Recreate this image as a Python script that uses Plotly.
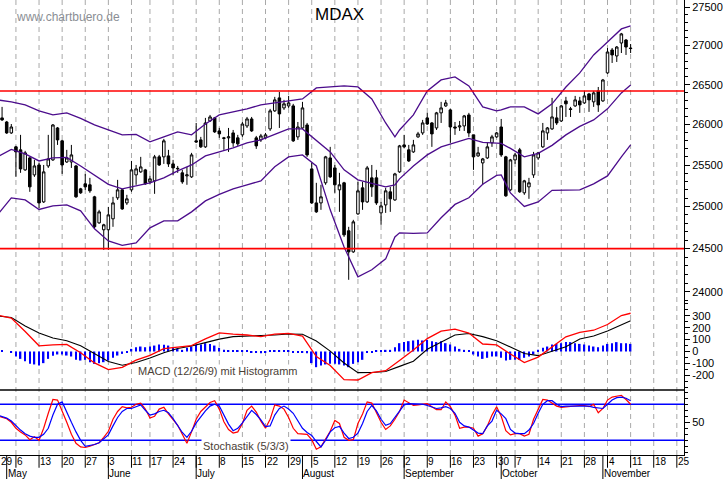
import pandas as pd
import plotly.graph_objects as go

# ---------------- trading calendar (x axis = session number) ----------------
HOLIDAYS = {"2019-05-01", "2019-06-10", "2019-10-03"}
sessions = [d for d in pd.bdate_range("2019-04-29", "2019-11-29")
            if d.strftime("%Y-%m-%d") not in HOLIDAYS]
MONTH_NAMES = {5: "May", 6: "June", 7: "July", 8: "August", 9: "September",
               10: "October", 11: "November"}

# ---------------- MDAX daily OHLC, 2019-04-30 .. 2019-11-11 ----------------
first_candle = 1
opens = [26082, 26031, 25895, 25723, 25686, 25441, 25587, 25380, 25501, 25054,
         25489, 25563, 25957, 25797, 25538, 25538, 25489, 25211, 25272, 25260,
         25115, 24804, 24722, 24722, 24852, 25103, 25199, 25042, 25199, 25380,
         25417, 25441, 25296, 25308, 25600, 25600, 25612, 25514, 25453, 25405,
         25368, 25356, 25797, 25809, 25723, 26044, 26082, 25920, 25834, 25834,
         25895, 25834, 25871, 25982, 26069, 25834, 25809, 25834, 25945, 26170,
         26333, 26207, 26232, 26232, 25846, 25957, 25994, 25453, 25042, 25042,
         25284, 25587, 25465, 25199, 25284, 24710, 24462, 24911, 25223, 25054,
         25344, 25344, 24923, 25018, 25175, 25078, 25417, 25747, 25686, 25661,
         25846, 25895, 26082, 26019, 25957, 26145, 26232, 26182, 25969, 25969,
         25982, 26119, 25871, 25612, 25526, 25587, 25772, 25846, 25969, 25600,
         25199, 25563, 25686, 25163, 25235, 25380, 25587, 25723, 25895, 25945,
         26082, 26044, 26295, 26195, 26232, 26295, 26270, 26383, 26283, 26421,
         26295, 26650, 26944, 26867, 27034, 27073, 26969]
highs = [26220, 26044, 26006, 25735, 25871, 25674, 25600, 25563, 25526, 25501,
         25871, 26006, 25969, 25809, 25686, 25747, 25501, 25223, 25392, 25344,
         25127, 24959, 24793, 24994, 25115, 25320, 25211, 25139, 25550, 25501,
         25600, 25453, 25368, 25624, 25624, 25821, 25686, 25563, 25489, 25441,
         25477, 25649, 26019, 25846, 26082, 26119, 26094, 25957, 25846, 25957,
         25932, 25871, 26031, 26094, 26094, 25858, 25883, 25895, 26195, 26346,
         26408, 26308, 26358, 26258, 26031, 26283, 26019, 25526, 25284, 25260,
         25612, 25723, 25501, 25405, 25296, 24757, 24840, 25296, 25296, 25489,
         25501, 25441, 25054, 25223, 25235, 25405, 25747, 25871, 25747, 25809,
         25908, 26057, 26145, 26031, 26157, 26283, 26308, 26195, 26031, 26044,
         26119, 26145, 25871, 25723, 25587, 25772, 25871, 25908, 26069, 25612,
         25575, 25649, 25710, 25320, 25344, 25661, 25661, 26019, 25969, 26333,
         26220, 26245, 26346, 26220, 26358, 26346, 26421, 26396, 26421, 26471,
         26573, 26969, 26969, 26995, 27165, 27086, 27021]
lows = [26044, 25883, 25883, 25356, 25405, 25429, 25175, 25356, 24982, 25042,
        25465, 25550, 25747, 25392, 25526, 25465, 25103, 25151, 25199, 25163,
        24733, 24793, 24485, 24485, 24757, 25078, 24959, 25018, 25175, 25260,
        25405, 25260, 25272, 25151, 25489, 25514, 25477, 25380, 25405, 25272,
        25260, 25344, 25772, 25710, 25710, 26031, 25895, 25834, 25686, 25661,
        25723, 25735, 25846, 25957, 25908, 25698, 25784, 25821, 25920, 26157,
        25957, 26182, 26207, 25784, 25809, 25945, 25600, 25030, 24923, 24959,
        25260, 25344, 25163, 24935, 24638, 24137, 24450, 24899, 24959, 25042,
        25115, 25018, 24781, 24923, 24935, 25066, 25405, 25710, 25538, 25649,
        25834, 25871, 25994, 25723, 25932, 26019, 26220, 25772, 25871, 25920,
        25920, 25846, 25441, 25600, 25260, 25575, 25723, 25834, 25600, 25115,
        25187, 25514, 25163, 25139, 25091, 25344, 25563, 25710, 25809, 25932,
        25994, 26031, 26094, 26094, 26220, 26145, 26258, 26157, 26220, 26157,
        26283, 26637, 26777, 26790, 26905, 26880, 26905]
closes = [26057, 25895, 25969, 25661, 25453, 25649, 25235, 25489, 25042, 25417,
          25575, 25994, 25809, 25501, 25587, 25624, 25115, 25163, 25235, 25187,
          24757, 24935, 24781, 24899, 25042, 25199, 24970, 25091, 25441, 25453,
          25477, 25272, 25332, 25600, 25501, 25797, 25514, 25465, 25459, 25296,
          25380, 25624, 25784, 25723, 26019, 26094, 25908, 25883, 25828, 25846,
          25772, 25760, 26006, 26069, 25920, 25735, 25858, 25871, 26170, 26308,
          26132, 26258, 26270, 25797, 25969, 26207, 25624, 25042, 24935, 25115,
          25600, 25356, 25260, 25260, 24662, 24462, 24816, 25187, 25054, 25465,
          25235, 25042, 25006, 25187, 25091, 25392, 25735, 25723, 25550, 25747,
          25883, 26019, 26006, 25883, 26145, 26207, 26270, 25969, 25957, 25982,
          26107, 25895, 25600, 25649, 25575, 25723, 25846, 25895, 25624, 25127,
          25563, 25624, 25175, 25308, 25284, 25624, 25649, 25920, 25957, 26094,
          26019, 26232, 26258, 26188, 26308, 26245, 26358, 26308, 26396, 26245,
          26560, 26918, 26880, 26982, 27152, 26982, 26963]
candle_x = list(range(first_candle, first_candle + len(opens)))

# ---------------- Bollinger bands (read at these sessions) ----------------
band_x = [0, 3, 6, 9, 12, 15, 18, 21, 24, 27, 30, 33, 36, 39, 42, 45, 48, 51, 54,
          57, 60, 63, 66, 69, 72, 75, 78, 81, 84, 86, 87, 90, 93, 96, 99, 102,
          105, 108, 109, 111, 114, 117, 120, 123, 126, 129, 132, 135, 137]
bb_upper = [26308, 26283, 26245, 26170, 26119, 26145, 26075, 25994, 25932, 25871,
            25877, 25784, 25846, 25908, 25871, 26006, 26119, 26157, 26195, 26245,
            26270, 26295, 26320, 26459, 26471, 26484, 26471, 26320, 26019, 25846,
            25932, 26119, 26421, 26560, 26598, 26484, 26220, 26170, 26182, 26220,
            26220, 26132, 26258, 26471, 26650, 26880, 27047, 27217, 27256]
bb_mid = [25600, 25692, 25637, 25550, 25587, 25594, 25489, 25380, 25266, 25211,
          25248, 25284, 25344, 25429, 25501, 25612, 25661, 25710, 25772, 25809,
          25877, 25945, 25945, 25797, 25661, 25441, 25320, 25278, 25235, 25260,
          25332, 25489, 25624, 25723, 25778, 25827, 25778, 25772, 25766, 25704,
          25600, 25643, 25741, 25871, 25976, 26057, 26195, 26396, 26496]
bb_lower = [24899, 25103, 25078, 24964, 25006, 25018, 24947, 24733, 24591, 24538,
            24567, 24745, 24828, 24828, 24935, 25066, 25145, 25211, 25260, 25308,
            25480, 25600, 25624, 25489, 24959, 24520, 24172, 24253, 24380, 24638,
            24686, 24680, 24686, 24864, 25024, 25103, 25266, 25374, 25380, 25163,
            25000, 25054, 25193, 25199, 25199, 25272, 25368, 25600, 25747]
resistance = 26420
support = 24500

# ---------------- MACD (12/26/9) ----------------
macd_x = list(range(0, 136, 3)) + [137]
macd_line = [307, 282, 168, 48, 56, 60, -11, -96, -152, -133, -73, -32, 24, 40, 50,
             106, 157, 146, 139, 125, 147, 152, 129, -42, -118, -237, -240, -178,
             -162, -75, 13, 109, 172, 189, 155, 63, 55, -21, -93, -47, 40, 124, 162,
             179, 227, 303, 322]
macd_signal = [299, 286, 215, 156, 114, 90, 48, -20, -85, -116, -93, -54, -10, 25, 46,
               75, 104, 125, 130, 130, 139, 147, 145, 88, 3, -97, -178, -177, -169,
               -125, -82, 19, 81, 139, 152, 125, 91, 36, -17, -35, 3, 40, 105, 130,
               172, 227, 259]
macd_hist = [7, 0, -6, -42, -62, -81, -104, -109, -118, -98,
             -62, -36, -25, -25, -34, -42, -70, -76, -70, -90,
             -104, -98, -90, -76, -53, -34, -20, -7, 22, 36,
             42, 36, 42, 50, 59, 56, 50, 36, 22, 14,
             31, 42, 56, 59, 70, 64, 50, 31, 14, 7,
             7, 7, 7, 7, -7, -7, -14, -7, 7, 7,
             7, 7, 7, -7, -7, -10, -14, -98, -132, -118,
             -109, -104, -104, -109, -118, -132, -104, -90, -70, -7,
             -7, 7, 7, 14, 14, 36, 70, 79, 87, 93,
             98, 93, 98, 87, 79, 87, 70, 59, 42, 22,
             14, 7, -25, -42, -62, -53, -42, -42, -53, -76,
             -70, -70, -70, -53, -42, -25, 14, 31, 42, 59,
             64, 70, 79, 79, 70, 64, 59, 50, 42, 36,
             50, 64, 70, 79, 70, 70, 64]

# ---------------- Stochastik (5/3/3), sessions 0..137 ----------------
stoch_k = [61, 59, 56, 50, 40, 34, 29, 21, 26, 20,
           40, 65, 88, 87, 70, 50, 30, 15, 9, 8,
           10, 13, 16, 25, 35, 55, 68, 76, 74, 75,
           80, 82, 72, 57, 60, 72, 75, 64, 55, 45,
           30, 15, 34, 55, 68, 76, 83, 86, 72, 51,
           38, 32, 34, 48, 70, 77, 67, 52, 40, 55,
           79, 77, 72, 58, 40, 31, 31, 30, 21, 5,
           9, 22, 35, 53, 48, 25, 20, 21, 48, 64,
           84, 82, 67, 50, 38, 44, 55, 68, 87, 82,
           78, 79, 80, 81, 76, 71, 71, 84, 76, 62,
           40, 42, 42, 40, 27, 31, 44, 62, 76, 60,
           36, 29, 31, 31, 27, 30, 55, 73, 88, 87,
           82, 77, 75, 76, 77, 77, 78, 78, 76, 80,
           66, 73, 87, 92, 94, 95, 88, 80]
stoch_d = [62, 60, 57, 52, 44, 37, 31, 27, 25, 25,
           30, 40, 62, 80, 84, 66, 50, 34, 20, 10,
           11, 13, 16, 22, 29, 44, 58, 68, 73, 73,
           76, 79, 70, 62, 64, 68, 70, 66, 56, 44,
           33, 25, 35, 49, 60, 69, 77, 80, 77, 63,
           47, 36, 40, 49, 59, 70, 63, 54, 43, 44,
           62, 73, 77, 72, 65, 53, 40, 33, 28, 18,
           9, 20, 34, 41, 43, 32, 23, 25, 32, 48,
           68, 78, 69, 55, 45, 48, 58, 68, 79, 81,
           81, 81, 80, 78, 75, 73, 74, 76, 73, 65,
           50, 44, 42, 37, 32, 31, 44, 52, 70, 64,
           56, 38, 32, 31, 31, 37, 48, 65, 80, 86,
           86, 80, 76, 77, 77, 78, 78, 78, 77, 75,
           74, 73, 80, 87, 91, 92, 90, 86]
stoch_x = list(range(len(stoch_k)))
stoch_levels = [80, 20]

# ---------------- axis ticks ----------------
price_major = list(range(24000, 27501, 500))
price_minor = list(range(23900, 27601, 100))
macd_major = list(range(-200, 301, 100))
macd_minor = list(range(-300, 401, 50))
stoch_major = [50]
stoch_minor = list(range(0, 101, 10))

# ---------------- layout constants ----------------
X_RANGE = [0.553, 148.55]
PRICE_RANGE_LOG = [4.37807, 4.44085]
MACD_RANGE = [-324, 416.7]
STOCH_RANGE = [-4.5, 103.8]
D_STOCH = [0, 0.14286]
D_MACD = [0.14286, 0.33626]
D_PRICE = [0.33626, 1]
FONT = "Liberation Sans, Arial, sans-serif"
PURPLE = "#4b0c8c"
TXT = "#4a4036"

week_starts = [i for i in range(len(sessions))
               if i == 0 or sessions[i].isocalendar()[1] != sessions[i - 1].isocalendar()[1]]
month_starts = [i for i in range(1, len(sessions)) if sessions[i].month != sessions[i - 1].month]


def xp(i):
    return (i - X_RANGE[0]) / (X_RANGE[1] - X_RANGE[0])


fig = go.Figure()

# Bollinger bands
for vals in (bb_upper, bb_mid, bb_lower):
    fig.add_trace(go.Scatter(x=band_x, y=vals, mode="lines",
                             line=dict(color=PURPLE, width=1.3), hoverinfo="skip"))
# horizontal support / resistance
for lvl in (resistance, support):
    fig.add_trace(go.Scatter(x=[0, len(sessions) - 1], y=[lvl, lvl], mode="lines",
                             line=dict(color="#ff0000", width=1.6), hoverinfo="skip"))
# candles
fig.add_trace(go.Candlestick(
    x=candle_x, open=opens, high=highs, low=lows, close=closes,
    increasing=dict(line=dict(color="black", width=1), fillcolor="white"),
    decreasing=dict(line=dict(color="black", width=1), fillcolor="black"),
    whiskerwidth=0, hoverinfo="skip"))

# MACD
fig.add_trace(go.Bar(x=candle_x, y=macd_hist, width=0.34, yaxis="y2",
                     marker=dict(color="#0000ff", line=dict(width=0)), hoverinfo="skip"))
fig.add_trace(go.Scatter(x=macd_x, y=macd_signal, yaxis="y2", mode="lines",
                         line=dict(color="black", width=1.1), hoverinfo="skip"))
fig.add_trace(go.Scatter(x=macd_x, y=macd_line, yaxis="y2", mode="lines",
                         line=dict(color="#ff0000", width=1.3), hoverinfo="skip"))

# Stochastics
for lvl in stoch_levels:
    fig.add_trace(go.Scatter(x=[0, len(sessions) - 1], y=[lvl, lvl], yaxis="y3", mode="lines",
                             line=dict(color="#0000ff", width=1.5), hoverinfo="skip"))
fig.add_trace(go.Scatter(x=stoch_x, y=stoch_k, yaxis="y3", mode="lines",
                         line=dict(color="#ff0000", width=1.2), hoverinfo="skip"))
fig.add_trace(go.Scatter(x=stoch_x, y=stoch_d, yaxis="y3", mode="lines",
                         line=dict(color="#0000ff", width=1.2), hoverinfo="skip"))

shapes = []
annotations = []
# vertical dashed week grid
for i in week_starts:
    if X_RANGE[0] <= i <= X_RANGE[1]:
        shapes.append(dict(type="line", xref="paper", yref="paper", x0=xp(i), x1=xp(i),
                           y0=0, y1=1, layer="below",
                           line=dict(color="#a9a9a9", width=1, dash="5px,4px")))
        shapes.append(dict(type="line", xref="paper", yref="paper", x0=xp(i), x1=xp(i),
                           y0=0, y1=-0.028, line=dict(color="black", width=1)))
# week labels
for i in week_starts:
    if xp(i) <= 1:
        annotations.append(dict(text=str(sessions[i].day), xref="paper", yref="paper",
                                x=max(xp(i), 0.0), y=-0.0143, xanchor="left",
                                yanchor="middle", showarrow=False, borderpad=0,
                                font=dict(family=FONT, size=10, color="black")))
# month separators and names
for i in month_starts:
    if xp(i) <= 1:
        shapes.append(dict(type="line", xref="paper", yref="paper", x0=xp(i), x1=xp(i),
                           y0=0, y1=-0.06, line=dict(color="black", width=1)))
        annotations.append(dict(text=MONTH_NAMES[sessions[i].month], xref="paper", yref="paper",
                                x=xp(i), y=-0.0396, xanchor="left", yanchor="middle",
                                showarrow=False, borderpad=0,
                                font=dict(family=FONT, size=10, color="black")))
# separator between MACD and stochastics
shapes.append(dict(type="line", xref="paper", yref="paper", x0=0, x1=1,
                   y0=D_STOCH[1], y1=D_STOCH[1], line=dict(color="black", width=1.6)))

annotations += [
    dict(text="MDAX", xref="paper", yref="paper", x=0.4964, y=0.9692, showarrow=False,
         xanchor="center", yanchor="middle", font=dict(family=FONT, size=17, color="black")),
    dict(text="www.chartbuero.de", xref="paper", yref="paper", x=0.02, y=0.9633,
         showarrow=False, xanchor="left", yanchor="middle",
         font=dict(family=FONT, size=12, color="#8a8e94")),
    dict(text="MACD (12/26/9) mit Histogramm", xref="paper", yref="paper", x=0.201, y=0.1853,
         showarrow=False, xanchor="left", yanchor="middle", bgcolor="white", borderpad=0,
         font=dict(family=FONT, size=11, color=TXT)),
    dict(text="Stochastik (5/3/3)", xref="paper", yref="paper", x=0.2935, y=0.0204,
         showarrow=False, xanchor="left", yanchor="middle", bgcolor="white", borderpad=1,
         font=dict(family=FONT, size=11, color=TXT)),
]

yax_common = dict(side="right", anchor="x", showgrid=False, zeroline=False, showline=True,
                  linecolor="black", linewidth=1, ticks="outside", ticklen=5,
                  tickcolor="black", tickfont=dict(family=FONT, size=11, color="black"),
                  fixedrange=True)

fig.update_layout(
    width=723, height=479,
    margin=dict(l=0, r=36, t=0, b=24),
    paper_bgcolor="white", plot_bgcolor="white",
    showlegend=False, boxgap=0.22, boxgroupgap=0.3,
    shapes=shapes, annotations=annotations,
    xaxis=dict(range=X_RANGE, domain=[0, 1], anchor="y3", showgrid=False, zeroline=False,
               showticklabels=False, ticks="", showline=True, linecolor="black",
               linewidth=1, rangeslider=dict(visible=False), fixedrange=True),
    yaxis=dict(domain=D_PRICE, type="log", range=PRICE_RANGE_LOG,
               tickmode="array", tickvals=price_major, ticktext=[str(v) for v in price_major],
               minor=dict(tickmode="array", tickvals=price_minor, ticks="outside",
                          ticklen=3, tickcolor="black"),
               **yax_common),
    yaxis2=dict(domain=D_MACD, range=MACD_RANGE,
                tickmode="array", tickvals=macd_major, ticktext=[str(v) for v in macd_major],
                minor=dict(tickmode="array", tickvals=macd_minor, ticks="outside",
                           ticklen=3, tickcolor="black"),
                **yax_common),
    yaxis3=dict(domain=D_STOCH, range=STOCH_RANGE,
                tickmode="array", tickvals=stoch_major, ticktext=[str(v) for v in stoch_major],
                minor=dict(tickmode="array", tickvals=stoch_minor, ticks="outside",
                           ticklen=3, tickcolor="black"),
                **yax_common),
)

fig.write_html("out.html")
